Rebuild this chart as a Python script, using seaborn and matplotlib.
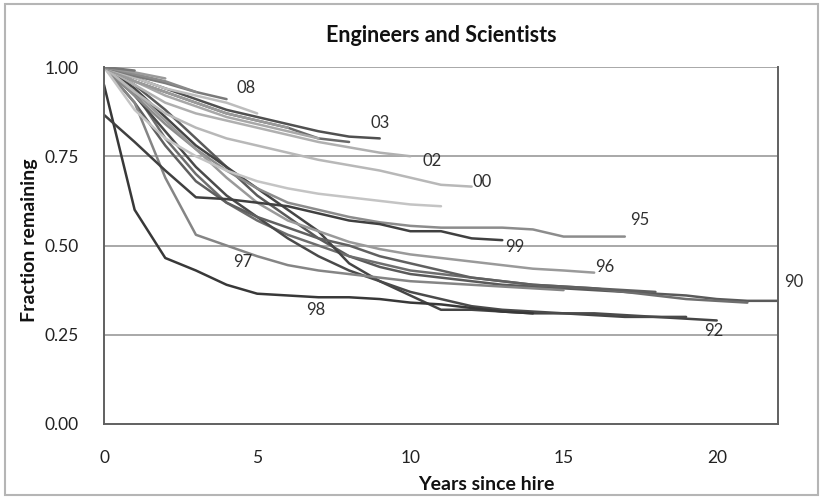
import matplotlib
matplotlib.use("Agg")
import matplotlib.pyplot as plt
import seaborn as sns
import pandas as pd
from matplotlib.patches import Rectangle

# Fraction of each hiring cohort still employed, by years since hire
cohorts = ["90", "91", "92", "93", "94", "95", "96", "97", "98", "99", "00",
           "01", "02", "03", "04", "05", "06", "07", "08", "09", "10", "11"]

retention = {
    "90": [1.0, 0.95, 0.88, 0.80, 0.72, 0.64, 0.58, 0.52, 0.47, 0.44, 0.42, 0.41,
           0.40, 0.39, 0.385, 0.38, 0.375, 0.37, 0.365, 0.36, 0.35, 0.345, 0.345],
    "91": [1.0, 0.93, 0.80, 0.70, 0.62, 0.57, 0.53, 0.50, 0.47, 0.45, 0.43, 0.42,
           0.41, 0.40, 0.39, 0.385, 0.38, 0.37, 0.36, 0.35, 0.345, 0.34],
    "92": [1.0, 0.94, 0.86, 0.78, 0.72, 0.66, 0.60, 0.54, 0.45, 0.40, 0.36, 0.32,
           0.32, 0.315, 0.31, 0.31, 0.305, 0.30, 0.30, 0.295, 0.29],
    "93": [1.0, 0.92, 0.82, 0.72, 0.64, 0.58, 0.52, 0.47, 0.43, 0.40, 0.37, 0.35,
           0.33, 0.32, 0.315, 0.31, 0.31, 0.305, 0.30, 0.30],
    "94": [1.0, 0.90, 0.78, 0.68, 0.62, 0.58, 0.55, 0.52, 0.50, 0.47, 0.45, 0.43,
           0.41, 0.40, 0.39, 0.385, 0.38, 0.375, 0.37],
    "95": [1.0, 0.92, 0.84, 0.77, 0.71, 0.66, 0.62, 0.60, 0.58, 0.565, 0.555, 0.55,
           0.55, 0.55, 0.545, 0.525, 0.525, 0.525],
    "96": [1.0, 0.93, 0.85, 0.77, 0.69, 0.62, 0.57, 0.54, 0.51, 0.49, 0.475, 0.465,
           0.455, 0.445, 0.435, 0.43, 0.424],
    "97": [1.0, 0.90, 0.69, 0.53, 0.50, 0.47, 0.445, 0.43, 0.42, 0.41, 0.40, 0.395,
           0.39, 0.385, 0.38, 0.375],
    "98": [0.95, 0.60, 0.465, 0.43, 0.39, 0.365, 0.36, 0.355, 0.355, 0.35, 0.34,
           0.335, 0.325, 0.315, 0.31],
    "99": [0.866, 0.79, 0.71, 0.635, 0.63, 0.62, 0.61, 0.59, 0.57, 0.56, 0.54,
           0.54, 0.52, 0.515],
    "00": [1.0, 0.93, 0.87, 0.83, 0.80, 0.78, 0.76, 0.74, 0.725, 0.71, 0.69, 0.67, 0.665],
    "01": [1.0, 0.88, 0.80, 0.75, 0.71, 0.68, 0.66, 0.645, 0.635, 0.625, 0.615, 0.61],
    "02": [1.0, 0.95, 0.90, 0.87, 0.85, 0.83, 0.81, 0.79, 0.775, 0.76, 0.75],
    "03": [1.0, 0.97, 0.94, 0.91, 0.88, 0.86, 0.84, 0.82, 0.805, 0.80],
    "04": [1.0, 0.96, 0.93, 0.90, 0.87, 0.85, 0.83, 0.80, 0.79],
    "05": [1.0, 0.96, 0.92, 0.89, 0.86, 0.84, 0.82, 0.80],
    "06": [1.0, 0.96, 0.93, 0.90, 0.87, 0.85, 0.83],
    "07": [1.0, 0.97, 0.94, 0.92, 0.90, 0.87],
    "08": [1.0, 0.975, 0.955, 0.93, 0.91],
    "09": [1.0, 0.98, 0.96, 0.93],
    "10": [1.0, 0.985, 0.968],
    "11": [1.0, 0.99],
}

shades = {
    "90": "#5a5a5a", "91": "#6e6e6e", "92": "#454545", "93": "#4a4a4a",
    "94": "#606060", "95": "#8c8c8c", "96": "#9a9a9a", "97": "#858585",
    "98": "#383838", "99": "#404040", "00": "#b8b8b8", "01": "#c4c4c4",
    "02": "#b0b0b0", "03": "#505050", "04": "#6a6a6a", "05": "#a8a8a8",
    "06": "#9a9a9a", "07": "#bdbdbd", "08": "#7a7a7a", "09": "#8a8a8a",
    "10": "#9a9a9a", "11": "#777777",
}

# Cohort labels: text and anchor position (years, fraction)
label_text = ["08", "03", "02", "00", "95", "99", "96", "90", "92", "97", "98"]
label_x = [4.64, 9.0, 10.7, 12.34, 17.5, 13.4, 16.35, 22.5, 19.9, 4.54, 6.9]
label_y = [0.94, 0.843, 0.737, 0.678, 0.571, 0.496, 0.44, 0.398, 0.26, 0.454, 0.32]

rows = []
for c in cohorts:
    for yr, v in enumerate(retention[c]):
        rows.append({"cohort": c, "years": yr, "fraction": v})
df = pd.DataFrame(rows)

sns.set_theme(style="white")
plt.rcParams["font.family"] = ["Lato", "DejaVu Sans"]

fig = plt.figure(figsize=(8.23, 4.97), dpi=100)
ax = fig.add_axes([104 / 823, 73 / 497, 674 / 823, 357 / 497])

# Chart frame around the whole figure
fig.patches.append(Rectangle((5 / 823, 2 / 497), 813 / 823, 491 / 497,
                             transform=fig.transFigure, fill=False,
                             edgecolor="#b5b5b5", linewidth=1.5))

for yv in [0.25, 0.5, 0.75, 1.0]:
    ax.axhline(yv, color="#a8a8a8", linewidth=1.4, zorder=0)

sns.lineplot(data=df, x="years", y="fraction", hue="cohort",
             hue_order=cohorts, palette=shades, linewidth=1.8,
             legend=False, ax=ax, sort=False)

for t, lx, ly in zip(label_text, label_x, label_y):
    ax.text(lx, ly, t, fontsize=12, color="#303030", ha="center",
            va="center", clip_on=False)

ax.set_xlim(0, 22)
ax.set_ylim(0, 1.0)
ax.set_xticks([0, 5, 10, 15, 20])
ax.set_yticks([0, 0.25, 0.5, 0.75, 1.0])
ax.set_yticklabels(["0.00", "0.25", "0.50", "0.75", "1.00"])
ax.tick_params(axis="both", labelsize=12.5, colors="#222222",
               length=4, width=1, direction="out")
ax.tick_params(axis="x", pad=15)
ax.tick_params(axis="y", pad=14)

for side in ["left", "bottom", "right"]:
    ax.spines[side].set_visible(True)
    ax.spines[side].set_color("#606060")
    ax.spines[side].set_linewidth(1.4)
ax.spines["top"].set_visible(False)

ax.set_title("Engineers and Scientists", fontsize=15.5, fontweight="bold",
             color="#111111", pad=18)
ax.set_xlabel("Years since hire", fontsize=14, fontweight="bold",
              color="#111111", labelpad=1)
ax.xaxis.set_label_coords(0.567, -0.145)
ax.set_ylabel("Fraction remaining", fontsize=14, fontweight="bold",
              color="#111111")
ax.yaxis.set_label_coords(-0.098, 0.515)

fig.savefig("out.png", dpi=100)
